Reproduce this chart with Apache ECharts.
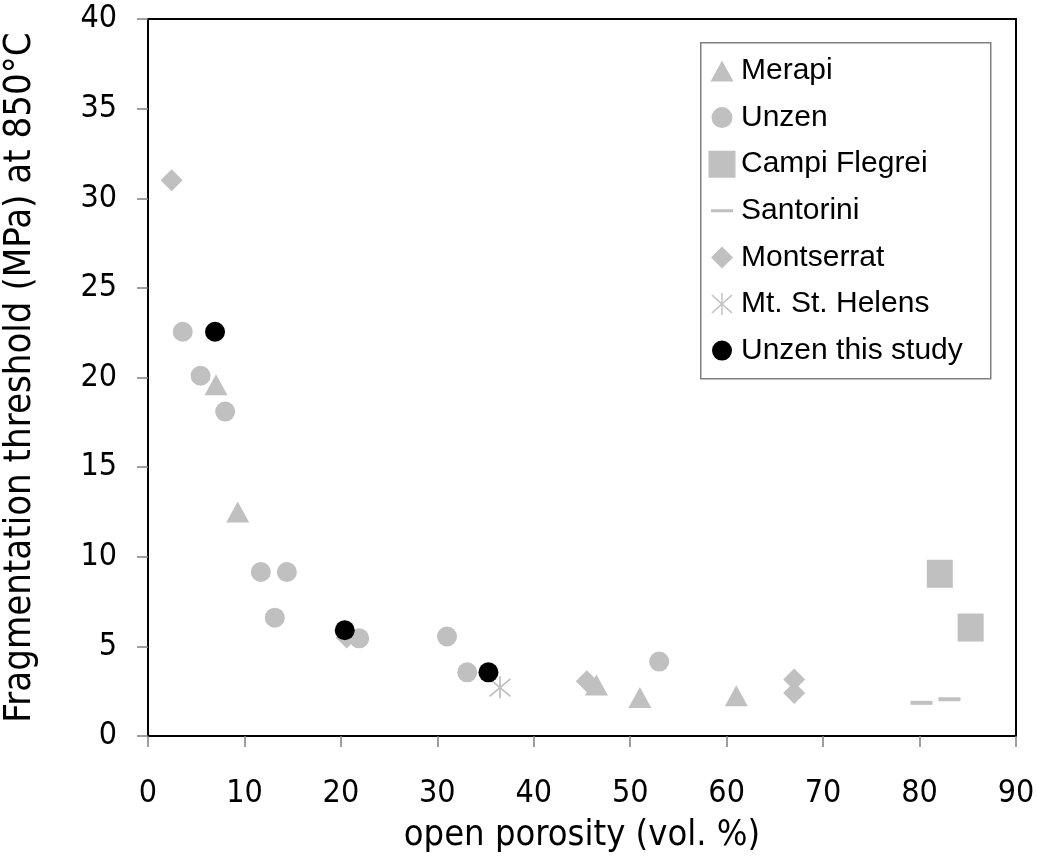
<!DOCTYPE html>
<html>
<head>
<meta charset="utf-8">
<script src="https://cdn.jsdelivr.net/npm/echarts@6/dist/echarts.min.js"></script>
<style>
html,body{margin:0;padding:0;background:#fff;}
#chart{width:1037px;height:857px;}
</style>
</head>
<body>
<div id="chart"></div>
<script>
// ---- data (open porosity %, fragmentation threshold MPa) ----
const merapi = [[7.05,19.6],[9.3,12.5],[46.5,2.85],[51.0,2.15],[61.0,2.25]];
const unzen = [[3.6,22.55],[5.45,20.1],[8.0,18.1],[11.7,9.15],[14.4,9.15],[13.15,6.6],[21.9,5.45],[31.0,5.55],[33.1,3.55],[53.0,4.15]];
const campiFlegrei = [[82.1,9.05],[85.3,6.05]];
const santorini = [[80.2,1.85],[83.1,2.05]];
const montserrat = [[2.45,31.0],[20.6,5.5],[45.5,3.05],[67.0,3.15],[67.0,2.4]];
const mtStHelens = [[36.5,2.7]];
const unzenThisStudy = [[6.95,22.55],[20.4,5.9],[35.3,3.55]];

const seriesNames = ['Merapi','Unzen','Campi Flegrei','Santorini','Montserrat','Mt. St. Helens','Unzen this study'];
const xTitle = 'open porosity (vol. %)';
const yTitle = 'Fragmentation threshold (MPa) at 850°C';

const GREY = '#c0c0c0';
const AXFONT = '"DejaVu Sans Condensed", "DejaVu Sans", sans-serif';
const starPath = 'path://M9.25,0L10.75,0L10.75,20L9.25,20Z M1.53,1.4L19.53,17.4L18.47,18.6L0.47,2.6Z M18.47,1.4L19.53,2.6L1.53,18.6L0.47,17.4Z';
const triPath = 'path://M11.5,0L23,21L0,21Z';
const diamondPath = 'path://M11,0L22,11L11,22L0,11Z';

// legend icons padded inside a 28x28 box so they keep their own sizes
const pad = 'M0,0L0.01,0M27.99,28L28,28';
const legIcons = [
  'path://' + pad + 'M2.5,24.5L14,3.5L25.5,24.5Z',
  'path://' + pad + 'M24.5,14A10.5,10.5,0,1,1,3.5,14A10.5,10.5,0,1,1,24.5,14Z',
  'path://' + pad + 'M0.5,0.5L27.5,0.5L27.5,27.5L0.5,27.5Z',
  'path://' + pad + 'M3,12.5L25,12.5L25,15.5L3,15.5Z',
  'path://' + pad + 'M14,3L25,14L14,25L3,14Z',
  'path://' + pad + 'M13.3,3L14.7,3L14.7,25L13.3,25Z M4.5,4.5L24.6,22.4L23.5,23.5L3.4,5.6Z M23.5,4.5L24.6,5.6L4.5,23.5L3.4,22.4Z',
  'path://' + pad + 'M24,14A10,10,0,1,1,4,14A10,10,0,1,1,24,14Z'
];

const chart = echarts.init(document.getElementById('chart'), null, {renderer:'canvas'});
const tickFont = {fontFamily:AXFONT, fontSize:32, color:'#000'};

function sc(name, data, symbol, size, color) {
  return {
    name: name, type:'scatter', data: data, symbol: symbol, symbolSize: size,
    itemStyle:{color: color, opacity:1}, emphasis:{disabled:true}
  };
}

chart.setOption({
  animation:false,
  backgroundColor:'#fff',
  grid:{left:148, right:21, top:19, bottom:121, containLabel:false, outerBoundsMode:'none',
        show:true, borderColor:'#000', borderWidth:2, backgroundColor:'transparent'},
  xAxis:{
    type:'value', min:0, max:90, interval:10,
    name:xTitle, nameLocation:'middle', nameGap:82,
    nameTextStyle:{fontFamily:AXFONT, fontSize:36, color:'#000'},
    axisLine:{show:true, onZero:false, lineStyle:{color:'#000', width:2}},
    axisTick:{show:true, inside:false, length:11, lineStyle:{color:'#808080', width:1.5}},
    axisLabel:Object.assign({margin:42}, tickFont),
    splitLine:{show:false}
  },
  yAxis:{
    type:'value', min:0, max:40, interval:5,
    name:yTitle, nameLocation:'middle', nameGap:109,
    nameTextStyle:{fontFamily:AXFONT, fontSize:38, color:'#000'},
    axisLine:{show:true, onZero:false, lineStyle:{color:'#000', width:2}},
    axisTick:{show:true, inside:false, length:11, lineStyle:{color:'#808080', width:1.5}},
    axisLabel:Object.assign({margin:31}, tickFont),
    splitLine:{show:false}
  },
  graphic:[{
    type:'rect', left:700, top:42, z:0,
    shape:{width:290, height:336},
    style:{fill:'#fff', stroke:'#808080', lineWidth:1.5}
  }],
  legend:{
    orient:'vertical', left:708, top:56, padding:0, itemGap:16.6,
    itemWidth:28, itemHeight:28, selectedMode:false, z:5,
    textStyle:{fontFamily:'"Liberation Sans", Arial, sans-serif', fontSize:30, color:'#000', lineHeight:28},
    data: seriesNames.map((n,i)=>({name:n, icon:legIcons[i], itemStyle:{color: i===6 ? '#000' : GREY}}))
  },
  series:[
    sc(seriesNames[0], merapi, triPath, [23,21], GREY),
    sc(seriesNames[1], unzen, 'circle', 20, GREY),
    sc(seriesNames[2], campiFlegrei, 'rect', [26,28], GREY),
    sc(seriesNames[3], santorini, 'rect', [22,4], GREY),
    sc(seriesNames[4], montserrat, diamondPath, 22, GREY),
    sc(seriesNames[5], mtStHelens, starPath, 22, GREY),
    sc(seriesNames[6], unzenThisStudy, 'circle', 20, '#000')
  ]
});
</script>
</body>
</html>
